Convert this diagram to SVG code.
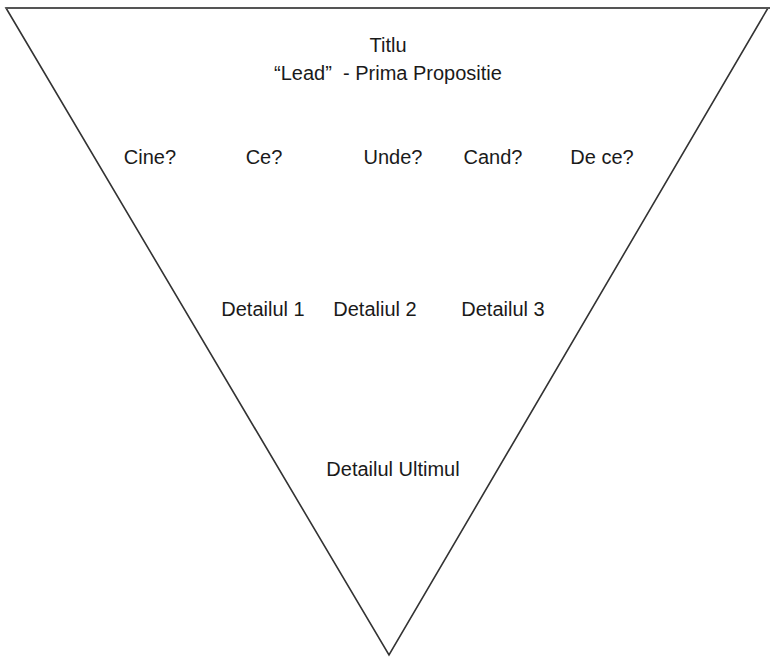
<svg xmlns="http://www.w3.org/2000/svg" width="770" height="657" viewBox="0 0 770 657">
  <style>
    .lbl { font-family: "Liberation Sans", Arial, sans-serif; font-size: 20px; fill: #1a1a1a; text-anchor: middle; }
    .edge { fill: none; stroke: #333; stroke-width: 1.6; stroke-linejoin: miter; }
  </style>
  <rect width="770" height="657" fill="#fff"/>
  <!-- inverted pyramid -->
  <g id="pyramid">
    <polygon class="edge" points="6,8 768,8 389,655"/>
    <line x1="6" y1="8" x2="770" y2="8" stroke="#555" stroke-width="2.2"/>
  </g>
  <g id="title">
    <text class="lbl" x="388" y="52">Titlu</text>
    <text class="lbl" x="388" y="80" xml:space="preserve">“Lead”  - Prima Propositie</text>
  </g>
  <g id="questions">
    <text class="lbl" x="150" y="164">Cine?</text>
    <text class="lbl" x="264" y="164">Ce?</text>
    <text class="lbl" x="393" y="164">Unde?</text>
    <text class="lbl" x="493" y="164">Cand?</text>
    <text class="lbl" x="602" y="164">De ce?</text>
  </g>
  <g id="details">
    <text class="lbl" x="263" y="316">Detailul 1</text>
    <text class="lbl" x="375" y="316">Detaliul 2</text>
    <text class="lbl" x="503" y="316">Detailul 3</text>
  </g>
  <g id="last">
    <text class="lbl" x="393" y="476">Detailul Ultimul</text>
  </g>
</svg>
